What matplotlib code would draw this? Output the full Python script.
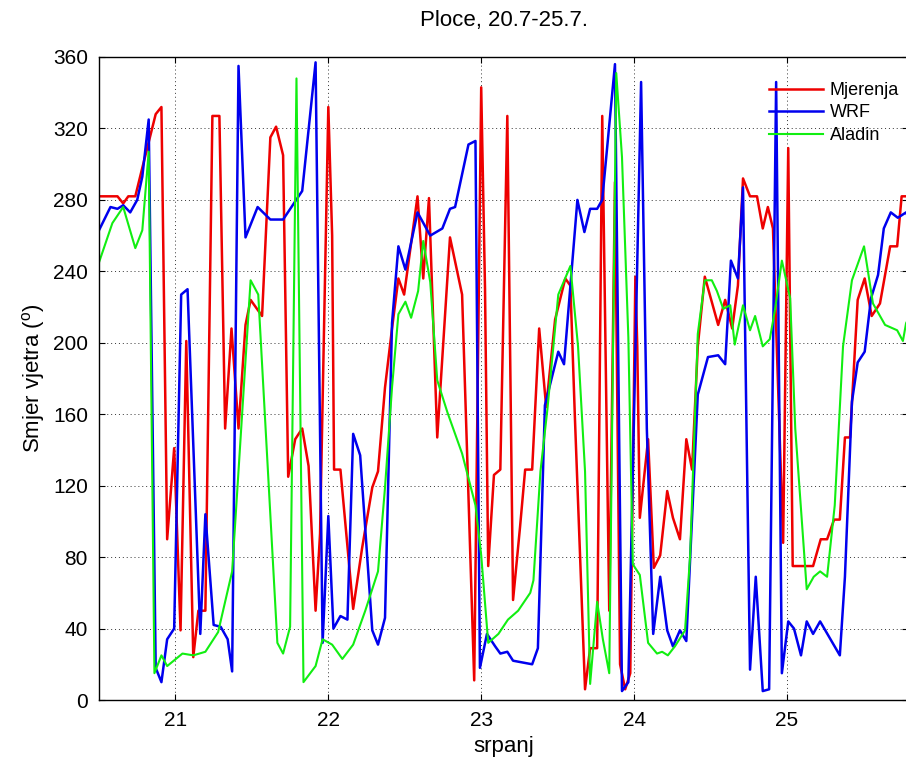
import matplotlib
matplotlib.use("Agg")
import matplotlib.pyplot as plt
import numpy as np

# hours relative to 21.7. 00:00 and wind direction in degrees
mjer_h = [-12, -9.1, -8.2, -7.4, -6.3, -5.2, -3.1, -2.2, -1.3, -0.2, 0.8, 1.7, 2.8, 3.6, 4.7, 5.8, 6.9,
          7.8, 8.8, 9.9, 11, 11.8, 13.6, 14.9, 15.8, 16.9, 17.7, 18.8, 19.9, 20.9, 22, 22.7, 24, 24.6,
          24.9, 25.9, 27.9, 29.3, 30.9, 31.8, 32.9, 34, 35, 35.9, 38, 38.9, 39.8, 41.1, 43.1, 45, 46,
          46.9, 48, 48.6, 49.1, 50, 51, 52.1, 53, 54.1, 54.9, 56, 57.1, 58.2, 59.6, 61.2, 62, 62.7,
          64.3, 65.1, 66.2, 67, 68.1, 69, 69.8, 70.6, 71.4, 72.2, 72.5, 72.9, 74.2, 75.1, 76.1, 77.2,
          78.1, 79.2, 80.2, 81.1, 82, 83.1, 85.2, 86.3, 87.4, 88.3, 89.1, 90.2, 91.3, 92.2, 93, 93.8,
          95.4, 96.2, 96.9, 100.1, 101.3, 102.3, 103.4, 104.3, 105.1, 105.9, 107.1, 108.2, 109.3,
          110.6, 112.2, 113.3, 114, 115.3]
mjer_v = [282, 282, 278, 282, 282, 298, 328, 332, 90, 141, 39, 201, 24, 50, 50, 327, 327,
          152, 208, 152, 210, 224, 215, 315, 321, 305, 125, 146, 152, 131, 50, 93, 332, 260,
          129, 129, 51, 85, 119, 128, 175, 208, 236, 227, 282, 236, 281, 147, 259, 227, 114,
          11, 343, 230, 75, 126, 129, 327, 56, 97, 129, 129, 208, 164, 213, 236, 232, 159,
          6, 29, 29, 327, 50, 290, 20, 6, 15, 237, 198, 102, 146, 74, 81, 117,
          102, 90, 146, 129, 198, 237, 210, 224, 208, 232, 292, 282, 282, 264, 276, 264,
          88, 309, 75, 75, 90, 90, 101, 101, 147, 147, 224, 236, 215,
          222, 254, 254, 282, 282]

wrf_h = [-12, -10.2, -9.1, -8.2, -7.1, -6, -5.2, -4.2, -3.1, -2.2, -1.3, -0.2, 0.9, 1.9, 3.9, 4.7,
         6, 7.1, 8.2, 8.9, 9.9, 11, 12.9, 14.9, 16.9, 19.9, 22, 23.1, 24, 24.8, 25.9, 27, 27.9, 29,
         30.9, 31.8, 32.9, 34, 35, 36.1, 38, 40, 41.9, 43.1, 43.9, 46, 47.1, 47.8, 48.9, 50.2, 51,
         52.1, 53, 56, 56.9, 58, 60.1, 61, 63.1, 64.2, 65.1, 66.2, 67, 69, 70.1, 71.1, 73.1, 74,
         75, 76.1, 77.2, 78.1, 79.2, 80.2, 82, 83.6, 85.2, 86.3, 87.2, 88.3, 89.1, 90.2, 91.1,
         92.2, 93.2, 94.3, 95.2, 96.2, 97.1, 98.2, 99.1, 100.1, 101.2, 104.3, 105.1, 106.2,
         107.1, 108.2, 109.2, 110.3, 111.2, 112.3, 113.4, 114.7, 115.3]
wrf_v = [263, 276, 275, 277, 273, 280, 293, 325, 18, 10, 34, 40, 227, 230, 37, 104,
         42, 41, 34, 16, 355, 259, 276, 269, 269, 285, 357, 32, 103, 40, 47, 45, 149, 137,
         39, 31, 46, 211, 254, 241, 273, 260, 264, 275, 276, 311, 313, 18, 37, 30, 26,
         27, 22, 20, 29, 165, 195, 188, 280, 262, 275, 275, 280, 356, 5, 10, 346, 152,
         37, 69, 39, 30, 39, 33, 171, 192, 193, 188, 246, 236, 287, 17, 69,
         5, 6, 346, 15, 44, 40, 25, 44, 37, 44, 25, 69, 167,
         189, 195, 225, 238, 264, 273, 270, 273, 268]

aladin_h = [-12, -9.9, -8.2, -6.3, -5.2, -4.2, -3.3, -2.2, -1.3, 1.1, 2.8, 4.7, 6.7, 8.9, 11.8, 13,
            16, 16.9, 18, 19, 20.1, 22, 23.1, 24.6, 26.2, 27.9, 29.8, 31.8, 32.9, 34, 35, 36.1, 37,
            38.1, 38.9, 40, 41.1, 42.7, 45, 47.1, 48, 49.1, 50.7, 52.2, 53.8, 55.7, 56.2, 57.3,
            58.4, 60.1, 62, 63.2, 64.3, 65.1, 66.2, 67.1, 68.1, 69.2, 70.1, 71.1, 71.8, 72.9, 74.2,
            75.6, 76.4, 77.3, 78.4, 80, 80.8, 82, 83.1, 84.2, 85, 86, 87.1, 87.8, 89.1, 90.2, 91,
            92.2, 93.3, 94.1, 95.2, 96.5, 97.3, 99.1, 100.2, 101.2, 102.3, 103.5, 104.8, 106.2,
            108.1, 109.5, 111.4, 113.3, 114.2, 114.7, 115.3]
aladin_v = [245, 267, 276, 253, 263, 307, 15, 25, 19, 26, 25, 27, 38, 72, 235, 227,
            32, 26, 41, 348, 10, 19, 34, 31, 23, 31, 50, 72, 119, 175, 216, 223, 214,
            229, 257, 234, 179, 161, 138, 109, 81, 32, 37, 45, 50, 60, 67, 128,
            163, 227, 243, 198, 128, 9, 55, 34, 15, 351, 304, 203, 76, 70, 32,
            26, 27, 25, 30, 39, 81, 205, 235, 235, 229, 219, 221, 199, 221, 207, 215,
            198, 202, 218, 246, 225, 152, 62, 69, 72, 69, 109, 198, 235,
            254, 222, 210, 207, 201, 211, 215]

labels = ["Mjerenja", "WRF", "Aladin"]
title = "Ploce, 20.7-25.7."
xticks = [21, 22, 23, 24, 25]
yticks = list(range(0, 361, 40))

plt.rcParams['font.family'] = ['Liberation Sans', 'DejaVu Sans']
plt.rcParams['mathtext.fontset'] = 'custom'
plt.rcParams['mathtext.rm'] = 'Liberation Sans'

W, H = 906, 776
fig = plt.figure(figsize=(W / 100, H / 100), dpi=100)
ax = fig.add_axes([99 / W, (H - 700) / H, (908 - 99) / W, (700 - 57) / H])

def to_day(h):
    return 21 + np.asarray(h, dtype=float) / 24.0

ax.plot(to_day(mjer_h), mjer_v, color='#ee0000', lw=1.8, label=labels[0])
ax.plot(to_day(wrf_h), wrf_v, color='#0000ee', lw=1.8, label=labels[1])
ax.plot(to_day(aladin_h), aladin_v, color='#11ee11', lw=1.5, label=labels[2])

ax.set_xlim(20.5, 21 + 115 / 24)
ax.set_ylim(0, 360)
ax.set_xticks(xticks)
ax.set_yticks(yticks)
ax.tick_params(direction='in', top=True, right=True, length=4, width=0.8,
               labelsize=15, pad=8)
ax.grid(True, linestyle=(0, (1, 3)), color='#333333', lw=0.7)
for s in ax.spines.values():
    s.set_linewidth(1.0)

ax.set_title(title, fontsize=16, pad=22)
ax.set_xlabel("srpanj", fontsize=16, labelpad=4)
ax.set_ylabel(r"Smjer vjetra ($^{\mathrm{o}}$)", fontsize=16, labelpad=4)

leg = ax.legend(loc='upper left', bbox_to_anchor=(760 / W, 1 - 73 / H),
                bbox_transform=fig.transFigure, frameon=False, fontsize=13,
                handlelength=3.0, handletextpad=0.35, labelspacing=0.3, borderpad=0)

fig.savefig("out.png", dpi=100)
